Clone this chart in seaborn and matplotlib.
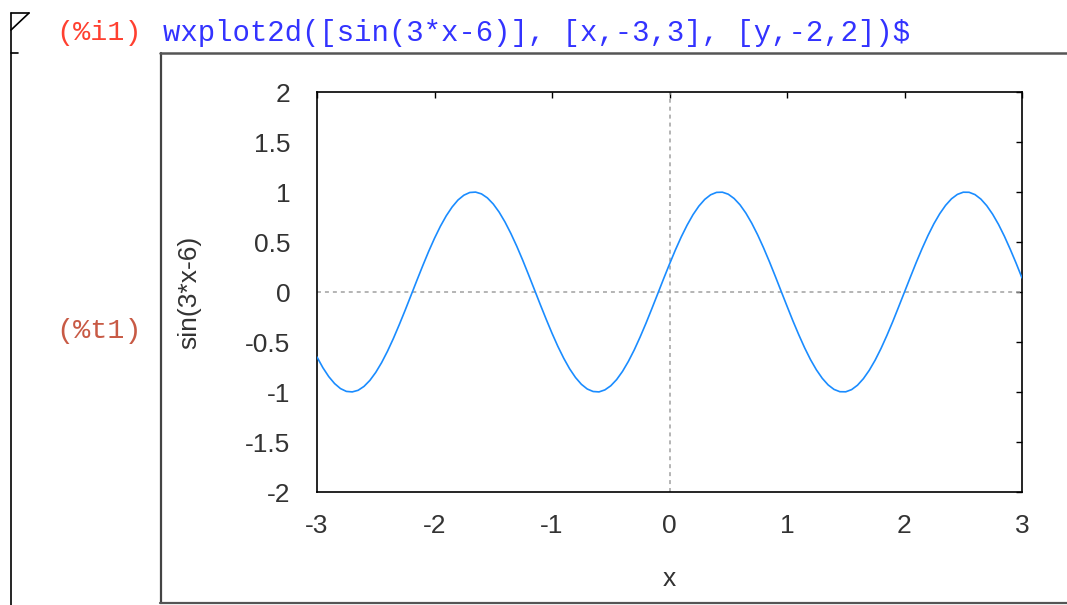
import matplotlib
matplotlib.use("Agg")
import matplotlib.pyplot as plt
from matplotlib.lines import Line2D
import seaborn as sns
import pandas as pd

# ---- data ----
x_values = [-3.00, -2.95, -2.90, -2.85, -2.80, -2.75, -2.70, -2.65, -2.60, -2.55,
            -2.50, -2.45, -2.40, -2.35, -2.30, -2.25, -2.20, -2.15, -2.10, -2.05,
            -2.00, -1.95, -1.90, -1.85, -1.80, -1.75, -1.70, -1.65, -1.60, -1.55,
            -1.50, -1.45, -1.40, -1.35, -1.30, -1.25, -1.20, -1.15, -1.10, -1.05,
            -1.00, -0.95, -0.90, -0.85, -0.80, -0.75, -0.70, -0.65, -0.60, -0.55,
            -0.50, -0.45, -0.40, -0.35, -0.30, -0.25, -0.20, -0.15, -0.10, -0.05,
            0.00, 0.05, 0.10, 0.15, 0.20, 0.25, 0.30, 0.35, 0.40, 0.45,
            0.50, 0.55, 0.60, 0.65, 0.70, 0.75, 0.80, 0.85, 0.90, 0.95,
            1.00, 1.05, 1.10, 1.15, 1.20, 1.25, 1.30, 1.35, 1.40, 1.45,
            1.50, 1.55, 1.60, 1.65, 1.70, 1.75, 1.80, 1.85, 1.90, 1.95,
            2.00, 2.05, 2.10, 2.15, 2.20, 2.25, 2.30, 2.35, 2.40, 2.45,
            2.50, 2.55, 2.60, 2.65, 2.70, 2.75, 2.80, 2.85, 2.90, 2.95, 3.00]
y_values = [-0.650, -0.757, -0.846, -0.916, -0.966, -0.994, -0.999, -0.983, -0.944, -0.884,
            -0.804, -0.706, -0.592, -0.465, -0.327, -0.183, -0.034, 0.116, 0.263, 0.405,
            0.537, 0.657, 0.762, 0.850, 0.920, 0.968, 0.995, 0.999, 0.981, 0.941,
            0.880, 0.799, 0.700, 0.585, 0.458, 0.320, 0.174, 0.025, -0.125, -0.271,
            -0.412, -0.544, -0.663, -0.768, -0.855, -0.923, -0.970, -0.995, -0.999, -0.979,
            -0.938, -0.876, -0.794, -0.694, -0.579, -0.450, -0.312, -0.166, -0.017, 0.133,
            0.279, 0.420, 0.551, 0.669, 0.773, 0.859, 0.926, 0.972, 0.996, 0.998,
            0.978, 0.935, 0.872, 0.789, 0.688, 0.572, 0.443, 0.304, 0.158, 0.008,
            -0.141, -0.288, -0.427, -0.558, -0.676, -0.778, -0.863, -0.929, -0.974, -0.997,
            -0.998, -0.976, -0.932, -0.867, -0.783, -0.682, -0.565, -0.435, -0.296, -0.149,
            0.000, 0.149, 0.296, 0.435, 0.565, 0.682, 0.783, 0.867, 0.932, 0.976,
            0.998, 0.997, 0.974, 0.929, 0.863, 0.778, 0.676, 0.558, 0.427, 0.288, 0.141]
x_ticks = [-3, -2, -1, 0, 1, 2, 3]
x_tick_labels = ["-3", "-2", "-1", "0", "1", "2", "3"]
y_ticks = [-2, -1.5, -1, -0.5, 0, 0.5, 1, 1.5, 2]
y_tick_labels = ["-2", "-1.5", "-1", "-0.5", "0", "0.5", "1", "1.5", "2"]
input_label = "(%i1)"
input_code = "wxplot2d([sin(3*x-6)], [x,-3,3], [y,-2,2])$"
output_label = "(%t1)"
x_label = "x"
y_label = "sin(3*x-6)"

sns.set_style("white")
plt.rcParams["font.family"] = ["Liberation Sans", "DejaVu Sans"]

W, H = 1067, 605
fig = plt.figure(figsize=(W / 100, H / 100), dpi=100)
fig.patch.set_facecolor("white")

def fx(px):
    return px / W

def fy(py):
    return 1 - py / H

ax = fig.add_axes([fx(317), fy(492), fx(1022) - fx(317), fy(92) - fy(492)])

df = pd.DataFrame({"x": x_values, "y": y_values})

ax.axhline(0, color="#a0a0a0", lw=1.1, ls=(0, (2.6, 2.6)), zorder=1)
ax.axvline(0, color="#a0a0a0", lw=1.1, ls=(0, (2.6, 2.6)), zorder=1)
sns.lineplot(data=df, x="x", y="y", ax=ax, color="#1a8cff", lw=1.2, zorder=3)

ax.set_xlim(-3, 3)
ax.set_ylim(-2, 2)
ax.set_xticks(x_ticks)
ax.set_xticklabels(x_tick_labels)
ax.set_yticks(y_ticks)
ax.set_yticklabels(y_tick_labels)
ax.tick_params(direction="in", length=4, width=1.0, color="black",
               top=True, right=True, labelsize=19, labelcolor="#333333")
ax.tick_params(axis="y", pad=19)
ax.tick_params(axis="x", pad=16)
for s in ax.spines.values():
    s.set_visible(True)
    s.set_color("black")
    s.set_linewidth(1.2)
ax.set_xlabel(x_label, fontsize=19, color="#333333", labelpad=21)
ax.set_ylabel(y_label, fontsize=19, color="#333333", labelpad=32)

# ---- notebook decorations ----
mono = ["Liberation Mono", "DejaVu Sans Mono"]
fig.text(fx(56), fy(33), input_label, fontsize=20.5, family=mono,
         color="#ff4030", va="center", ha="left")
fig.text(fx(163), fy(33), input_code, fontsize=20.9, family=mono,
         color="#3333ff", va="center", ha="left")
fig.text(fx(56), fy(331), output_label, fontsize=20.5, family=mono,
         color="#c85a45", va="center", ha="left")

def fline(xs, ys, color="black", lw=1.2):
    fig.add_artist(Line2D([fx(v) for v in xs], [fy(v) for v in ys],
                          color=color, lw=lw, transform=fig.transFigure))

# left cell bracket
fline([10.5, 10.5], [13, 605])
fline([10.5, 29], [13, 13])
fline([29, 11], [13, 30])
fline([10.5, 18], [53, 53])
# output box
fline([160.5, 160.5], [53, 603], color="#444444", lw=1.6)
fline([160, 1067], [53, 53], color="#555555", lw=1.8)
fline([160, 1067], [603, 603], color="#555555", lw=1.6)

fig.savefig("out.png", dpi=100, facecolor="white")
